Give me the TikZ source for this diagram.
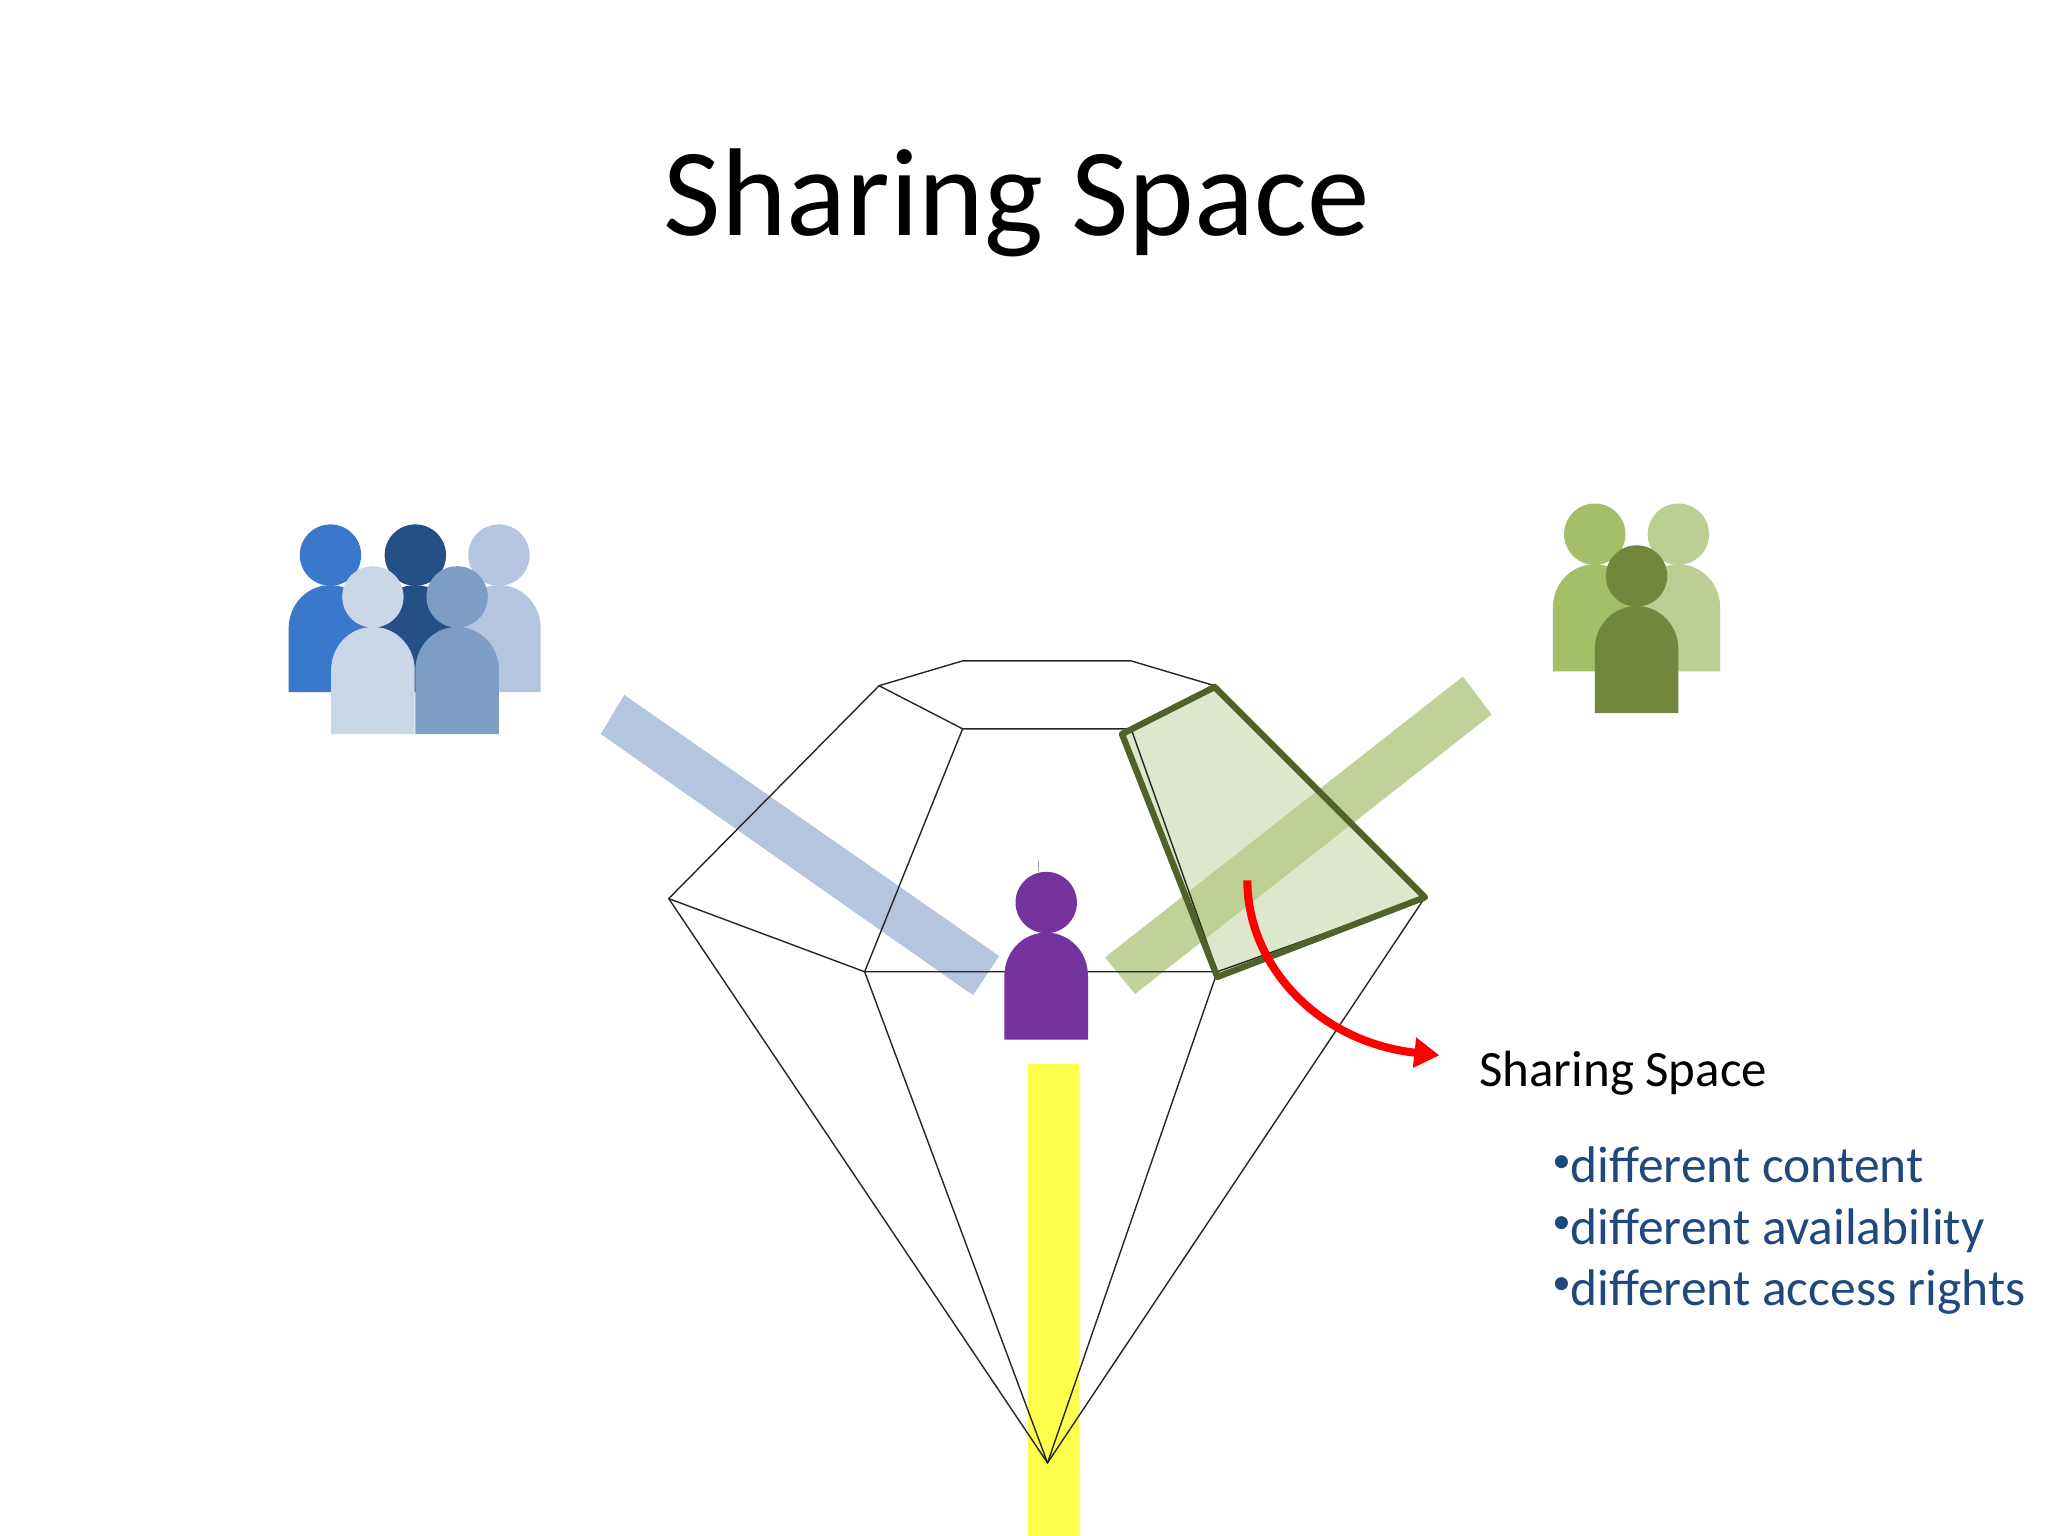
\documentclass[tikz,border=0pt]{standalone}
\usepackage{fontspec}
\setmainfont{Carlito}
\usetikzlibrary{arrows.meta}

\definecolor{bluebar}{HTML}{B4C6DF}
\definecolor{greenbar}{HTML}{BACD8E}
\definecolor{spaceline}{HTML}{4F6228}
\definecolor{spacefill}{HTML}{DDE7CB}
\definecolor{listblue}{HTML}{1F497D}
\definecolor{sharebar}{HTML}{FFFF4D}
\definecolor{bluemid}{HTML}{3A78CB}
\definecolor{bluedark}{HTML}{255086}
\definecolor{bluepale}{HTML}{C9D7E8}
\definecolor{bluesoft}{HTML}{7D9DC4}
\definecolor{greenmid}{HTML}{A5BE68}
\definecolor{greenpale}{HTML}{BCCF92}
\definecolor{greendark}{HTML}{71873E}
\definecolor{purpleuser}{HTML}{7533A0}

\tikzset{
	gemline/.style={draw=black!85, line width=0.4pt},
	titletext/.style={anchor=base, font=\fontsize{35.55}{40}\selectfont},
	labeltext/.style={anchor=base west, inner sep=0pt, font=\fontsize{14.5}{17}\selectfont},
	listtext/.style={anchor=base west, text=listblue, font=\fontsize{14.65}{17}\selectfont, inner sep=0pt},
}

% head and body: centre x, head centre y, colour
\newcommand{\drawperson}[3]{
	\fill[#3] (#1,#2) circle (23.5);
	\fill[#3] ({#1-32},{#2+105}) -- ({#1-32},{#2+56}) .. controls ({#1-32},{#2+38}) and ({#1-18},{#2+23}) .. (#1,{#2+23})
		.. controls ({#1+18},{#2+23}) and ({#1+32},{#2+38}) .. ({#1+32},{#2+56}) -- ({#1+32},{#2+105}) -- cycle;
}
\newcommand{\listdot}{\makebox[5.2pt][l]{\raisebox{3pt}{\fontsize{10.5}{11}\selectfont •}}}

\begin{document}
\begin{tikzpicture}[x=0.013061cm, y=-0.013061cm]
	\useasboundingbox (0,0) rectangle (1568,1176);
	\fill[white] (0,0) rectangle (1568,1176);

	% Title
	\node[titletext] (title) at (778.5,180) {Sharing Space};

	% Yellow bar
	\fill[sharebar] (787,815) rectangle (826,1176);

	% Sharing space, fill only
	\fill[spacefill] (859,562) -- (930,526) -- (1091,687) -- (932,748) -- cycle;

	% Bars to the person
	\fill[bluebar] (478,532) -- (460,562) -- (745,762) -- (765,732) -- cycle;
	\fill[greenbar, fill opacity=0.9] (1120,518) -- (1142,547) -- (869,761) -- (846,733) -- cycle;

	% Gem vertices
	\coordinate (top1) at (737,506);
	\coordinate (top2) at (866,506);
	\coordinate (top3) at (930,525);
	\coordinate (top4) at (673,525);
	\coordinate (mid1) at (737,558);
	\coordinate (mid2) at (866,558);
	\coordinate (far1) at (512,688);
	\coordinate (far2) at (1091,687);
	\coordinate (low1) at (662,744);
	\coordinate (low2) at (932,744);
	\coordinate (tip) at (802,1120);

	% Gem
	\draw[gemline] (top1) -- (top2) -- (top3) -- (far2) -- (tip) -- (far1) -- (top4) -- cycle;
	\draw[gemline] (mid1) -- (mid2) -- (low2) -- (low1) -- cycle;
	\draw[gemline] (top4) -- (mid1);
	\draw[gemline] (top3) -- (mid2);
	\draw[gemline] (far1) -- (low1) -- (tip);
	\draw[gemline] (far2) -- (low2) -- (tip);

	% Sharing space, outline
	\draw[spaceline, line width=1.8pt, line join=round] (859,562) -- (930,526) -- (1091,687) -- (932,748) -- cycle;

	% Left group
	\drawperson{253}{425}{bluemid}
	\drawperson{382}{425}{bluebar}
	\drawperson{318}{425}{bluedark}
	\drawperson{285.5}{457}{bluepale}
	\drawperson{350}{457}{bluesoft}

	% Right group
	\drawperson{1285}{409}{greenpale}
	\drawperson{1221}{409}{greenmid}
	\drawperson{1253}{441}{greendark}

	% Person in the middle
	\drawperson{801}{691}{purpleuser}
	\draw[black!40, line width=0.4pt] (795,659) -- (795,667);

	% Label and arrow
	\node[labeltext] (spacelabel) at (1132,832) {Sharing Space};
	\coordinate (arrowstart) at (955,674);
	\coordinate (arrowend) at (1102,808);
	\draw[-{Triangle[length=0.25cm, width=0.29cm]}, red, line width=2.3pt] (arrowstart) .. controls (955,740) and (1010,798) .. (arrowend);

	% Properties
	\node[listtext] (content) at (1188,905.5) {\listdot different content};
	\node[listtext] (availability) at (1188,952.5) {\listdot different availability};
	\node[listtext] (rights) at (1188,999.5) {\listdot different access rights};
\end{tikzpicture}
\end{document}
